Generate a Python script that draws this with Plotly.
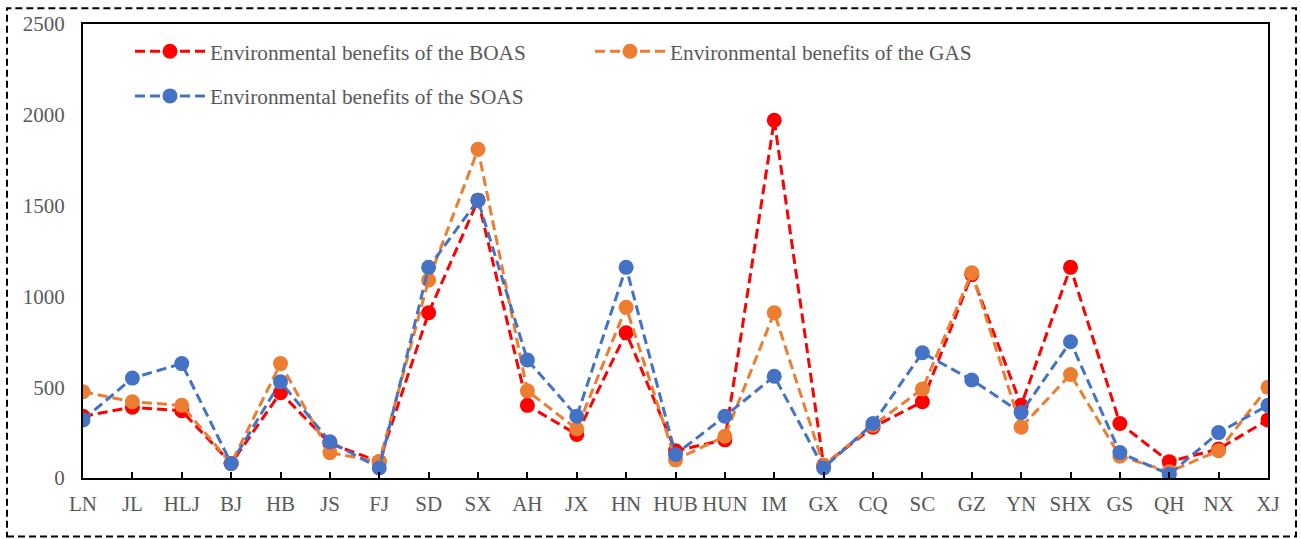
import plotly.graph_objects as go

categories = ["LN", "JL", "HLJ", "BJ", "HB", "JS", "FJ", "SD", "SX", "AH", "JX", "HN", "HUB",
              "HUN", "IM", "GX", "CQ", "SC", "GZ", "YN", "SHX", "GS", "QH", "NX", "XJ"]

boas = [340, 390, 370, 80, 470, 190, 90, 910, 1530, 400, 240, 800, 150,
        210, 1970, 70, 280, 420, 1120, 400, 1160, 300, 90, 160, 320]
gas = [475, 420, 400, 80, 630, 140, 90, 1090, 1810, 480, 270, 940, 100,
       230, 910, 70, 290, 490, 1130, 280, 570, 120, 35, 150, 500]
soas = [320, 550, 630, 80, 530, 200, 55, 1160, 1530, 650, 340, 1160, 130,
        340, 560, 55, 300, 690, 540, 360, 750, 140, 20, 250, 400]

names = ["Environmental benefits of the BOAS",
         "Environmental benefits of the GAS",
         "Environmental benefits of the SOAS"]
colors = ["#FF0000", "#ED7D31", "#4472C4"]
legends = ["legend", "legend", "legend2"]

FONT = "Liberation Serif, Times New Roman, serif"
GRAY = "#595959"

fig = go.Figure()
for vals, name, col, lg in zip([boas, gas, soas], names, colors, legends):
    fig.add_trace(go.Scatter(
        x=categories, y=vals, name=name, mode="lines+markers",
        line=dict(color=col, width=3, dash="10px,5px"),
        marker=dict(color=col, size=15),
        legend=lg,
    ))

W, H = 1301, 539
L, R, T, B = 83, 33, 20, 61
pw, ph = W - L - R, H - T - B

def px_x(x):
    return (x - L) / pw

def px_y(y):
    return (H - B - y) / ph

fig.update_layout(
    width=W, height=H,
    margin=dict(l=L, r=R, t=T, b=B, pad=0),
    paper_bgcolor="white", plot_bgcolor="white",
    font=dict(family=FONT, size=21, color=GRAY),
    showlegend=True,
    legend=dict(
        orientation="h", x=px_x(130), y=px_y(27), xanchor="left", yanchor="top",
        bgcolor="rgba(0,0,0,0)", itemwidth=70, entrywidth=375, entrywidthmode="pixels",
        font=dict(family=FONT, size=21.3, color=GRAY), traceorder="normal",
    ),
    legend2=dict(
        orientation="h", x=px_x(130), y=px_y(72), xanchor="left", yanchor="top",
        bgcolor="rgba(0,0,0,0)", itemwidth=70,
        font=dict(family=FONT, size=21.3, color=GRAY),
    ),
    xaxis=dict(
        type="category", range=[0, len(categories) - 1],
        showline=True, linecolor="black", linewidth=2, mirror=True,
        ticks="inside", ticklen=6, tickwidth=2, tickcolor="black",
        showgrid=False, zeroline=False,
        tickfont=dict(family=FONT, size=21, color=GRAY),
        ticklabelstandoff=6,
    ),
    yaxis=dict(
        range=[0, 2500], dtick=500, tick0=0,
        showline=True, linecolor="black", linewidth=2, mirror=True,
        ticks="", showgrid=False, zeroline=False,
        tickfont=dict(family=FONT, size=21, color=GRAY),
        ticklabelstandoff=12,
    ),
    shapes=[dict(
        type="rect", xref="paper", yref="paper",
        x0=px_x(7), x1=px_x(1296), y0=px_y(537), y1=px_y(4),
        line=dict(color="black", width=2, dash="7px,4px"),
        fillcolor="rgba(0,0,0,0)", layer="above",
    )],
)

fig.write_html("out.html")
